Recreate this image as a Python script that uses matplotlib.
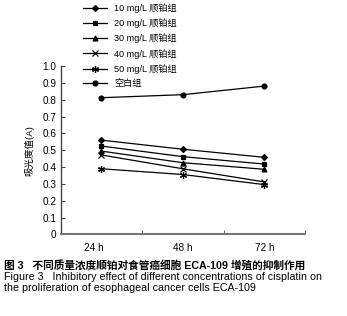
import matplotlib
matplotlib.use("Agg")
import matplotlib.pyplot as plt
from matplotlib.transforms import ScaledTranslation

plt.rcParams['font.family'] = ['Liberation Sans', 'Noto Sans CJK SC', 'DejaVu Sans']

times = ["24 h", "48 h", "72 h"]
labels = ["10 mg/L 顺铂组", "20 mg/L 顺铂组", "30 mg/L 顺铂组",
          "40 mg/L 顺铂组", "50 mg/L 顺铂组", "空白组"]
values = [
    [0.56, 0.506, 0.458],
    [0.525, 0.462, 0.418],
    [0.495, 0.426, 0.387],
    [0.472, 0.39, 0.312],
    [0.39, 0.356, 0.296],
    [0.812, 0.83, 0.881],
]
markers = ["D", "s", "^", "x", (6, 2, 0), "o"]
sizes = [3, 3.5, 3.5, 4, 5, 3.5]
yticks = [0, 0.1, 0.2, 0.3, 0.4, 0.5, 0.6, 0.7, 0.8, 0.9, 1.0]
ytick_labels = ["0", "0.1", "0.2", "0.3", "0.4", "0.5", "0.6", "0.7", "0.8", "0.9", "1.0"]

fig = plt.figure(figsize=(3.47, 3.16), dpi=100)
ax = fig.add_axes([0.175, 0.258, 0.704, 0.533])

x = list(range(len(times)))
handles = []
for vals, lab, m, s in zip(values, labels, markers, sizes):
    h, = ax.plot(x, vals, color="black", lw=0.9, marker=m, markersize=s,
                 markeredgewidth=0.9, label=lab)
    handles.append(h)

ax.set_xlim(-0.5, 2.5)
ax.set_ylim(0, 1.0)
ax.set_yticks(yticks)
ax.set_yticklabels(ytick_labels, fontsize=7.2)
ax.set_xticks([-0.5, 0.5, 1.5, 2.5])
ax.set_xticklabels([])
ax.set_xticks(x, minor=True)
ax.set_xticklabels(times, minor=True, fontsize=7.2)
ax.tick_params(axis="x", which="minor", length=0, pad=6)
ax.tick_params(axis="x", which="major", direction="in", length=3, color="#666666")
ax.tick_params(axis="y", direction="in", length=3, pad=3, color="#444444")
# first time label sits a little left of its point in the original
first = ax.xaxis.get_minorticklabels()[0]
first.set_transform(first.get_transform() + ScaledTranslation(-8 / 100, 0, fig.dpi_scale_trans))
for side in ["top", "right"]:
    ax.spines[side].set_visible(False)
ax.spines["bottom"].set_color("#777777")
ax.spines["bottom"].set_linewidth(1.5)
ax.spines["left"].set_color("#444444")
ax.spines["left"].set_linewidth(1.0)

ax.set_ylabel("吸光度值(A)", fontsize=6.8, labelpad=6)

fig.legend(handles=handles, loc="upper left", bbox_to_anchor=(0.225, 1.006),
           frameon=False, fontsize=6.6, handlelength=2.6, handletextpad=0.8,
           labelspacing=0.6, borderaxespad=0.15)

fig.text(0.012, 0.158, "图 3   不同质量浓度顺铂对食管癌细胞 ECA-109 增殖的抑制作用",
         fontsize=7.7, fontweight="bold", va="center")
fig.text(0.012, 0.124, "Figure 3   Inhibitory effect of different concentrations of cisplatin on",
         fontsize=7.7, va="center")
fig.text(0.012, 0.089, "the proliferation of esophageal cancer cells ECA-109",
         fontsize=7.7, va="center")

fig.savefig("out.png", dpi=100)
